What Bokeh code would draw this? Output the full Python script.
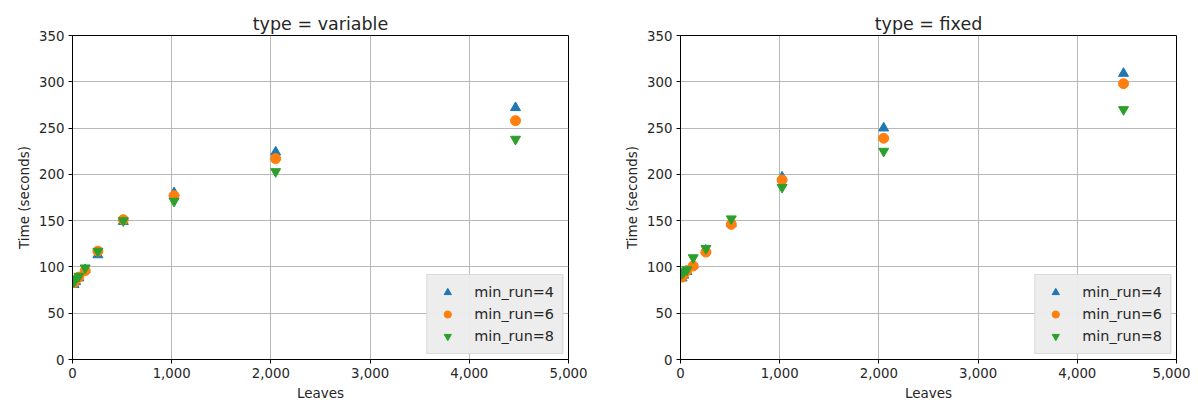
from bokeh.plotting import figure
from bokeh.layouts import row
from bokeh.models import Range1d, NumeralTickFormatter, FixedTicker, Legend, LegendItem
from bokeh.embed import file_html
from bokeh.resources import INLINE

leaves = [16, 32, 64, 128, 256, 512, 1024, 2048, 4466]

var_mr4 = [81, 84, 88, 97, 113, 149, 180, 224, 272]
var_mr6 = [83, 86, 89, 96, 117, 151, 177, 217, 258]
var_mr8 = [84, 87, 90, 99, 117, 150, 171, 203, 238]

fix_mr4 = [88, 91, 95, 102, 118, 147, 197, 250, 309]
fix_mr6 = [89, 92, 96, 101, 116, 146, 194, 239, 298]
fix_mr8 = [93, 95, 97, 110, 120, 152, 186, 225, 270]

titles = ["type = variable", "type = fixed"]
series_labels = ["min_run=4", "min_run=6", "min_run=8"]
x_ticks = [0, 1000, 2000, 3000, 4000, 5000]
y_ticks = [0, 50, 100, 150, 200, 250, 300, 350]

FONT = "DejaVu Sans"
TXT = "#262626"


def make(title, s4, s6, s8, right_border):
    p = figure(frame_width=496, frame_height=324, output_backend="svg",
               toolbar_location=None, x_range=Range1d(0, 5000), y_range=Range1d(0, 350),
               min_border_left=72, min_border_right=right_border,
               min_border_top=35, min_border_bottom=40)
    p.title.text = title
    p.title.align = "center"
    p.title.text_font = FONT
    p.title.text_font_size = "17.5px"
    p.title.text_font_style = "normal"
    p.title.text_color = TXT
    p.title.offset = 0
    p.title.standoff = 4
    p.outline_line_color = "black"
    p.outline_line_width = 1
    p.outline_line_alpha = 1
    for ax in (p.xaxis[0], p.yaxis[0]):
        ax.axis_line_color = "black"
        ax.major_tick_line_color = "black"
        ax.major_tick_out = 4
        ax.major_tick_in = 0
        ax.minor_tick_line_color = None
        ax.major_label_text_font = FONT
        ax.major_label_text_font_size = "13.3px"
        ax.major_label_text_color = TXT
        ax.axis_label_text_font = FONT
        ax.axis_label_text_font_size = "13.5px"
        ax.axis_label_text_font_style = "normal"
        ax.axis_label_text_color = TXT
        ax.axis_label_standoff = 4
        ax.major_label_standoff = 4
    p.xaxis.ticker = FixedTicker(ticks=x_ticks)
    p.yaxis.ticker = FixedTicker(ticks=y_ticks)
    p.xaxis.formatter = NumeralTickFormatter(format="0,0")
    p.xaxis.axis_label = "Leaves"
    p.yaxis.axis_label = "Time (seconds)"
    p.grid.grid_line_color = "#b0b0b0"
    p.grid.grid_line_width = 1
    p.grid.grid_line_alpha = 0.9

    r4 = p.scatter(leaves, s4, marker="triangle", size=10, color="#1f77b4")
    r6 = p.scatter(leaves, s6, marker="circle", size=10, color="#ff7f0e")
    r8 = p.scatter(leaves, s8, marker="inverted_triangle", size=10, color="#2ca02c")

    legend = Legend(items=[LegendItem(label=series_labels[0], renderers=[r4]),
                           LegendItem(label=series_labels[1], renderers=[r6]),
                           LegendItem(label=series_labels[2], renderers=[r8])],
                    location="bottom_right")
    legend.margin = 5
    legend.padding = 8
    legend.spacing = 4
    legend.label_text_font = FONT
    legend.label_text_font_size = "14.4px"
    legend.label_text_color = TXT
    legend.background_fill_color = "#ececec"
    legend.background_fill_alpha = 0.95
    legend.border_line_color = "#c8c8c8"
    legend.border_line_width = 1
    legend.glyph_width = 24
    legend.label_standoff = 15
    legend.label_height = 18
    legend.glyph_height = 18
    p.add_layout(legend)
    return p


p1 = make(titles[0], var_mr4, var_mr6, var_mr8, 40)
p2 = make(titles[1], fix_mr4, fix_mr6, fix_mr8, 14)
layout = row(p1, p2)

open("out.html", "w").write(file_html(layout, INLINE))
